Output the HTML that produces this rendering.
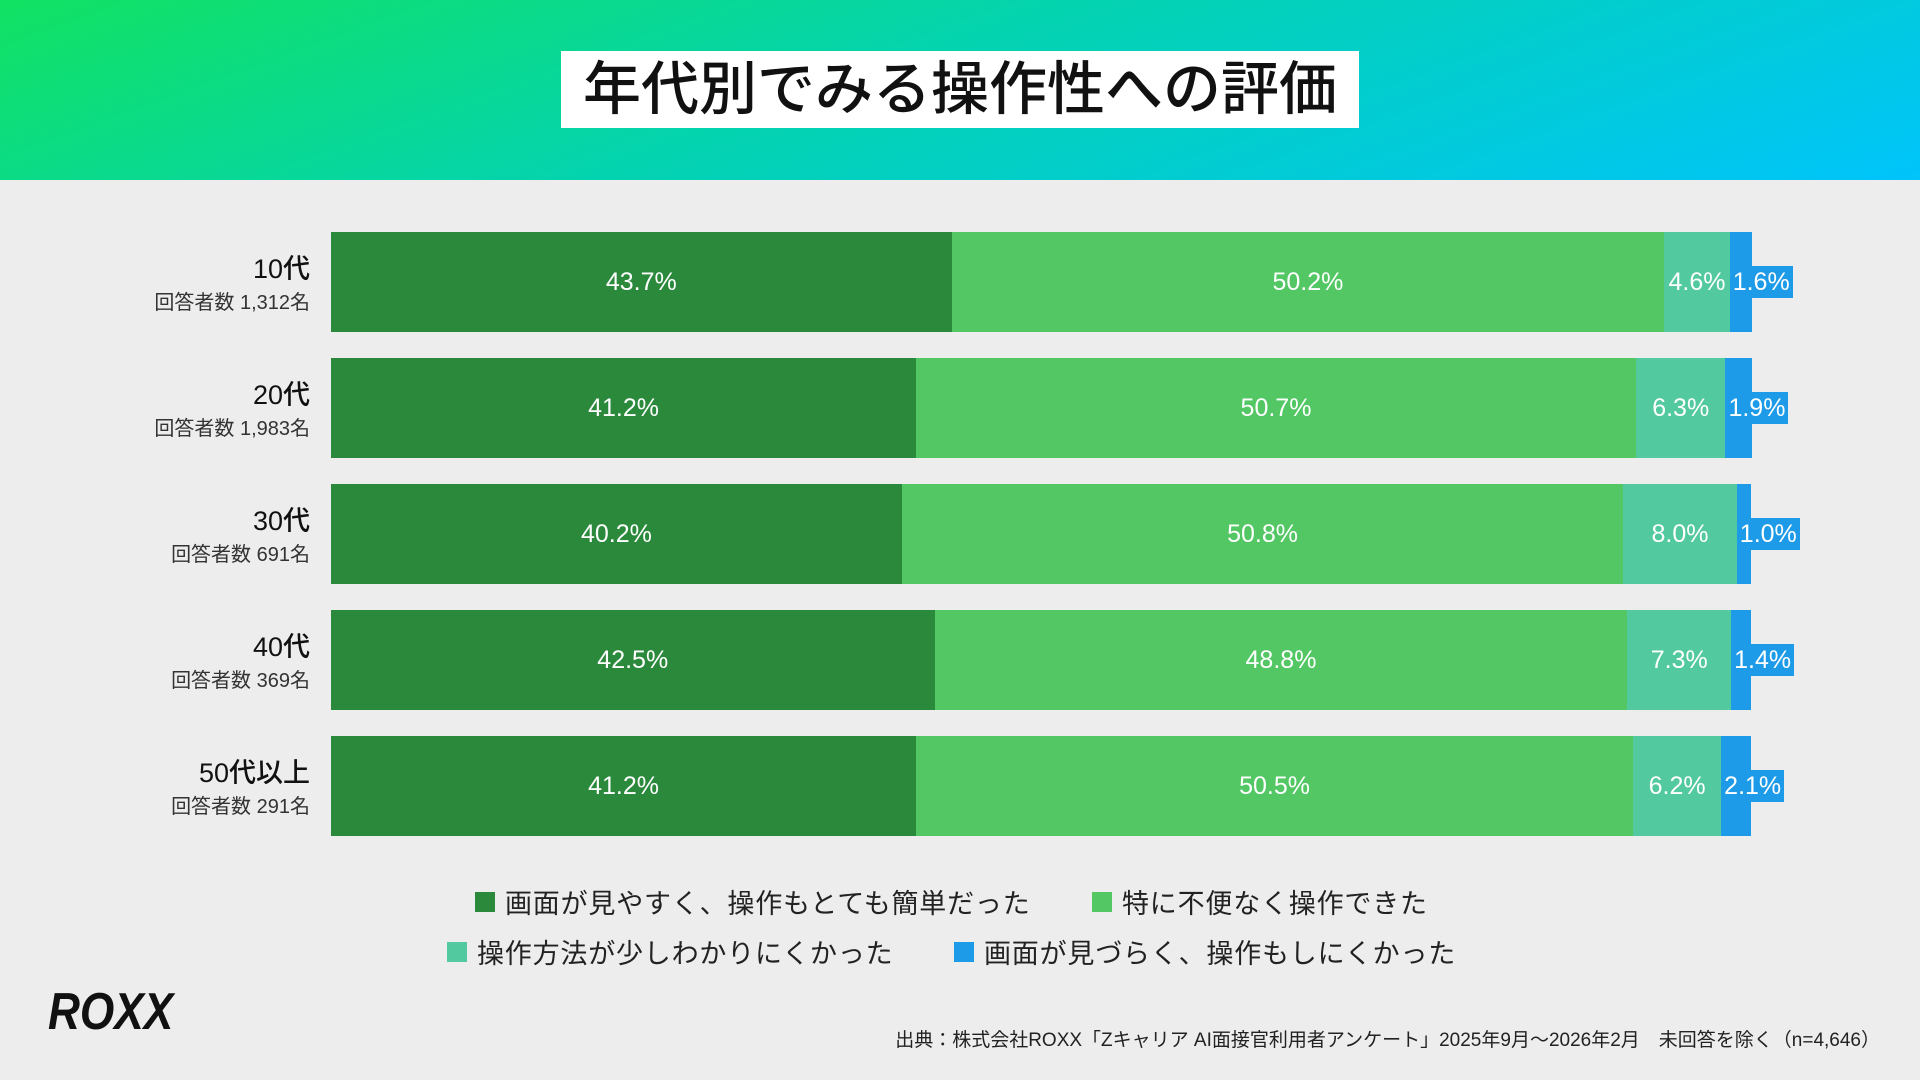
<!DOCTYPE html>
<html><head><meta charset="utf-8"><style>
body{margin:0;width:1920px;height:1080px;background:#ededed;font-family:"Liberation Sans","Noto Sans CJK JP",sans-serif;position:relative;overflow:hidden}
#hdr{position:absolute;left:0;top:0;width:1920px;height:180px;background:linear-gradient(160deg,#12e262 0%,#04d3b0 45%,#00c4fb 100%)}
#title{position:absolute;left:561px;top:51px;width:798px;height:77px;background:#fff;font-size:58px;line-height:77px;text-align:center;color:#111;font-weight:500}
.seg{position:absolute;color:#fff;font-size:25px;display:flex;align-items:center;justify-content:center}
.tag{position:absolute;background:#1e9be8;color:#fff;font-size:25px;line-height:32px;padding:0 3px}
.rl{position:absolute;right:1610px;text-align:right;color:#111}
.rl b{display:block;font-size:27px;font-weight:500}
.rl span{font-size:20px;color:#333}
.leg{position:absolute;font-size:27px;color:#222;display:flex;align-items:center;letter-spacing:0.8px}
.leg i{display:inline-block;width:20px;height:20px;margin-right:10px}
</style></head><body>
<div id="hdr"></div>
<div id="title">年代別でみる操作性への評価</div>
<div id="chart"></div>
<div class="leg" style="left:475px;top:882px"><i style="background:#2b893c"></i>画面が見やすく、操作もとても簡単だった</div>
<div class="leg" style="left:1092px;top:882px"><i style="background:#52c763"></i>特に不便なく操作できた</div>
<div class="leg" style="left:447px;top:932px"><i style="background:#53c9a0"></i>操作方法が少しわかりにくかった</div>
<div class="leg" style="left:954px;top:932px"><i style="background:#1e9be8"></i>画面が見づらく、操作もしにくかった</div>
<div style="position:absolute;left:48px;top:982px;font-size:52px;font-weight:900;font-style:italic;color:#111;letter-spacing:0px;transform:scaleX(0.85);transform-origin:left">ROXX</div>
<div style="position:absolute;right:40px;top:1025px;font-size:19px;color:#222">出典：株式会社ROXX「Zキャリア AI面接官利用者アンケート」2025年9月〜2026年2月　未回答を除く（n=4,646）</div>
<script>
const categories=["10代","20代","30代","40代","50代以上"];
const counts=["回答者数 1,312名","回答者数 1,983名","回答者数 691名","回答者数 369名","回答者数 291名"];
const easy=[43.7,41.2,40.2,42.5,41.2];
const noIssue=[50.2,50.7,50.8,48.8,50.5];
const somewhatHard=[4.6,6.3,8.0,7.3,6.2];
const hard=[1.6,1.9,1.0,1.4,2.1];
const series=[easy,noIssue,somewhatHard,hard];
const colors=["#2b893c","#52c763","#53c9a0","#1e9be8"];
const names=["easy","no-issue","somewhat-hard","hard"];
const X0=331,PX=14.2,Y0=232,ROW=126,H=100;
const x=v=>X0+v*PX, y=i=>Y0+i*ROW;
const root=document.body;
categories.forEach((c,i)=>{
  const l=document.createElement('div');l.className='rl';
  
  
  l.style.top=(y(i)+15)+'px';
  l.innerHTML='<b>'+c+'</b><span>'+counts[i]+'</span>';
  root.appendChild(l);
  let acc=0;
  series.forEach((s,k)=>{
    const v=s[i];const d=document.createElement('div');d.className='seg';
    
    
    d.style.left=x(acc)+'px';d.style.top=y(i)+'px';d.style.width=(v*PX)+'px';d.style.height=H+'px';d.style.background=colors[k];
    if(k<3)d.textContent=v.toFixed(1)+'%';
    root.appendChild(d);
    if(k===3){const t=document.createElement('div');t.className='tag';
      
      
      t.style.left=x(acc)+'px';t.style.top=(y(i)+34)+'px';t.textContent=v.toFixed(1)+'%';root.appendChild(t);}
    acc+=v;
  });
});
</script>
</body></html>
